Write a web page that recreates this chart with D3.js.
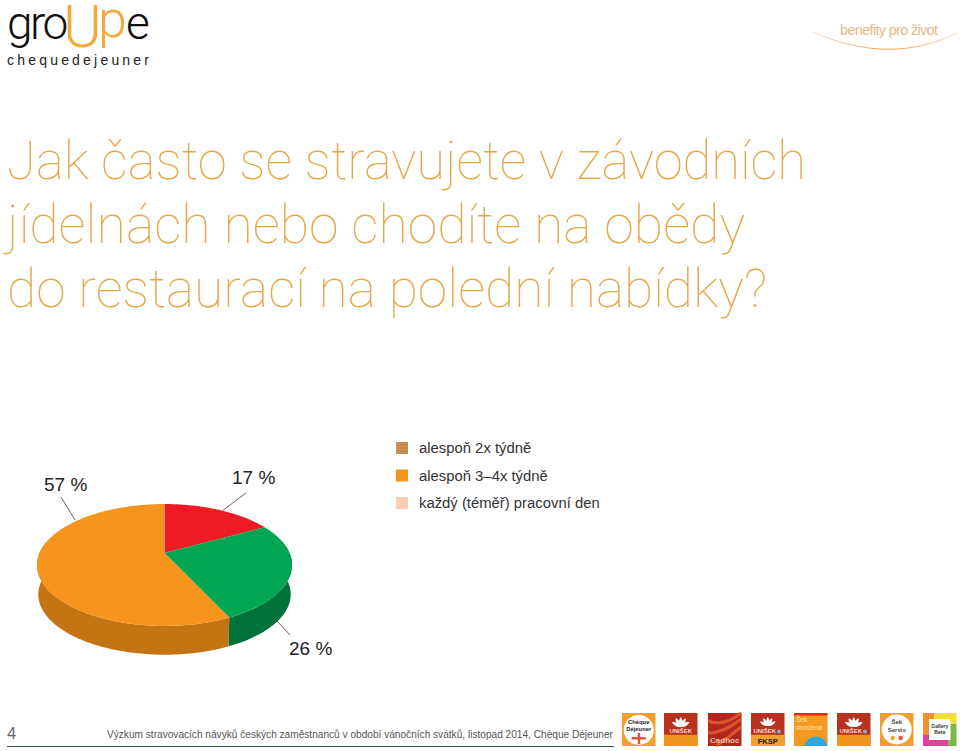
<!DOCTYPE html>
<html><head><meta charset="utf-8">
<script src="https://cdnjs.cloudflare.com/ajax/libs/d3/7.8.5/d3.min.js"></script>
<style>html,body{margin:0;padding:0;background:#fff}svg{display:block}text{font-family:"Liberation Sans",Arial,sans-serif}</style>
</head><body><svg id="c" width="960" height="751"></svg>
<script>
const sliceValues = [17, 26, 57];
const sliceLabels = ["17 %","26 %","57 %"];
const sliceColors = ["#ED1C24","#00A651","#F7941D"];
const wallColors = ["#A8141A","#00723A","#C27512"];
const legendLabels = ["alespoň 2x týdně","alespoň 3–4x týdně","každý (téměř) pracovní den"];
const legendColors = ["#CC8B50","#F7941D","#FBCDB5"];
const titleLines = ["Jak často se stravujete v závodních","jídelnách nebo chodíte na obědy","do restaurací na polední nabídky?"];
const footerText = "Výzkum stravovacích návyků českých zaměstnanců v období vánočních svátků, listopad 2014, Chèque Déjeuner";

const svg = d3.select("#c");
const TITLE="#E6A64A";

const defs=svg.append("defs");
const grad=defs.append("linearGradient").attr("id","sw").attr("gradientUnits","userSpaceOnUse").attr("x1",813).attr("x2",957).attr("y1",0).attr("y2",0);
[[0,"#F6E3CC"],[.5,"#EFA050"],[1,"#F6E3CC"]].forEach(s=>grad.append("stop").attr("offset",s[0]).attr("stop-color",s[1]));

// header
const logo = svg.append("text").style("font-family","Roboto").style("font-weight",300);
const span=(t,x,y,fs,c,ls)=>logo.append("tspan").text(t).attr("x",x).attr("y",y).attr("font-size",fs).attr("fill",c).style("letter-spacing",(ls||0)+"px");
span("gro",7,39,46,"#111",-2.6);
span("U",63,47,59,"#F4A93A");
span("p",98,37,52,"#F4A93A");
span("e",126,39,46,"#111");
svg.append("text").text("chequedejeuner").attr("x",7).attr("y",65).attr("font-size",14).attr("fill","#222").attr("textLength",142).attr("lengthAdjust","spacing");
svg.append("text").text("benefity pro život").attr("x",840).attr("y",35).attr("font-size",14.5).attr("fill","#E8B88A").attr("textLength",98);
svg.append("path").attr("d","M813,32 Q890,66 957,33").attr("fill","none").attr("stroke","url(#sw)").attr("stroke-width",1.1);

// title
svg.append("g").selectAll("text").data(titleLines).join("text")
  .text(d=>d).attr("x",7).attr("y",(d,i)=>179+i*64)
  .attr("font-size",53).attr("fill",TITLE)
  .style("font-family","Roboto").style("font-weight",100)
  .attr("textLength",(d,i)=>[799,738,760][i]).attr("lengthAdjust","spacingAndGlyphs");

// pie: d3.pie angles projected on to a tilted disc
const arcs = d3.pie().sort(null)(sliceValues);
const xS = d3.scaleLinear().domain([-1,1]).range([-125,125]);
const yS = d3.scaleLinear().domain([-1,1]).range([58.6,-58.6]);
const k = 0.1967;
const proj = (t,r,s,dy)=>{const u=r*Math.sin(t),v=r*Math.cos(t),w=1+k*v;
  return [164.5+s*xS(u)/w, 553+dy+s*yS(v)/w];};
const line = d3.line().curve(d3.curveLinear);
const samples=(a,b)=>{const n=Math.max(2,Math.ceil((b-a)/0.02));return d3.range(n+1).map(i=>a+(b-a)*i/n);};
const pg = svg.append("g");
const DY=29.5,S=0.99;
arcs.forEach((d,i)=>{
  const a=Math.max(d.startAngle,Math.PI/2-0.2), b=Math.min(d.endAngle,3*Math.PI/2+0.2);
  if(b<=a) return;
  const ts=samples(a,b);
  const pts=ts.map(t=>proj(t,1,1,0)).concat(ts.slice().reverse().map(t=>proj(t,1,S,DY)));
  pg.append("path").attr("d",line(pts)+"Z").attr("fill",wallColors[i]);
});
arcs.forEach((d,i)=>{
  const pts=[proj(0,0,1,0)].concat(samples(d.startAngle,d.endAngle).map(t=>proj(t,1,1,0)));
  pg.append("path").attr("d",line(pts)+"Z").attr("fill",sliceColors[i]);
});

// leaders and value labels
const leaderFrom=[[222.7,510.5],[276.7,620.7],[75,520]];
const leaderTo=[[246,493],[290,635],[61,497]];
const labelPos=[[232,484],[289,655],[44,491]];
sliceLabels.forEach((t,i)=>{
  svg.append("line").attr("x1",leaderFrom[i][0]).attr("y1",leaderFrom[i][1]).attr("x2",leaderTo[i][0]).attr("y2",leaderTo[i][1]).attr("stroke","#444").attr("stroke-width",.8);
  svg.append("text").text(t).attr("x",labelPos[i][0]).attr("y",labelPos[i][1]).attr("font-size",19).attr("fill","#222");
});

// legend
const ly=d3.scalePoint().domain(legendLabels).range([448,503]);
const lgd=svg.append("g").selectAll("g").data(legendLabels).join("g");
lgd.append("rect").attr("x",396).attr("y",d=>ly(d)-6).attr("width",12).attr("height",12).attr("fill",(d,i)=>legendColors[i]);
lgd.append("text").text(d=>d).attr("x",419).attr("y",d=>ly(d)+5).attr("font-size",14.85).attr("fill","#333");

// footer
svg.append("text").text("4").attr("x",7).attr("y",739).attr("font-size",16.5).attr("fill","#666");
svg.append("text").text(footerText).attr("x",107).attr("y",738).attr("font-size",11.6).attr("fill","#555").attr("textLength",506).attr("lengthAdjust","spacingAndGlyphs");
svg.append("line").attr("x1",7).attr("x2",614).attr("y1",746.5).attr("y2",746.5).attr("stroke","#34504E").attr("stroke-width",1.2);

// partner logos
const logoX=[622,664,708,751,794,837,880,923], W=33.5,T=713,H=33;
const lotus=(g,x,y,s)=>{[-60,-30,0,30,60].forEach(a=>{
  g.append("path").attr("d",`M0,0 C${-2.6*s},${-3*s} ${-1.8*s},${-8*s} 0,${-10*s} C${1.8*s},${-8*s} ${2.6*s},${-3*s} 0,0`)
   .attr("transform",`translate(${x},${y}) rotate(${a})`).attr("fill","#fff");});};
const txt=(g,t,x,y,fs,c,w,anchor)=>g.append("text").text(t).attr("x",x).attr("y",y).attr("font-size",fs).attr("fill",c).attr("font-weight",w||"bold").attr("text-anchor",anchor||"middle");
logoX.forEach((x,i)=>{
  const g=svg.append("g").attr("transform",`translate(${x},${T})`);
  const cx=W/2;
  if(i===0){
    g.append("rect").attr("width",W).attr("height",H).attr("fill","#F0A030");
    g.append("circle").attr("cx",cx).attr("cy",H/2+.5).attr("r",15).attr("fill","#fff");
    txt(g,"Chèque",cx,11,5.8,"#222"); txt(g,"Déjeuner",cx,18,5.8,"#222");
    g.append("rect").attr("x",cx-1).attr("y",20).attr("width",2.5).attr("height",11).attr("fill","#E0563A");
    g.append("rect").attr("x",cx-7).attr("y",24).attr("width",14).attr("height",2.5).attr("fill","#E0563A");
  } else if(i===1||i===3||i===5){
    g.append("rect").attr("width",W).attr("height",H).attr("fill","#B8321E");
    g.append("rect").attr("y",H*.66).attr("width",W).attr("height",H*.34).attr("fill",i===3?"#F0A030":"#F0961E");
    lotus(g,cx,i===3?13:14,i===3?.9:1);
    txt(g,"UNIŠEK",i===1?cx:cx-3,20,6,"#f3d9cf");
    if(i!==1) g.append("circle").attr("cx",28).attr("cy",18.5).attr("r",2).attr("fill","#7FB2D8");
    if(i===3) txt(g,"FKSP",cx,31,7.5,"#222");
  } else if(i===2){
    g.append("rect").attr("width",W).attr("height",H).attr("fill","#B3261E");
    [[0,8,33,0],[0,20,33,6],[8,33,33,14]].forEach(p=>g.append("path").attr("d",`M${p[0]},${p[1]} Q16,${p[3]+14} ${p[2]},${p[3]}`).attr("stroke","#D9532C").attr("stroke-width",3).attr("fill","none"));
    txt(g,"Cadhoc",cx,30,8,"#f2c4a8");
  } else if(i===4){
    g.append("rect").attr("width",W).attr("height",H).attr("fill","#F39A1E");
    g.append("rect").attr("width",W).attr("height",2.5).attr("fill","#D9301E");
    txt(g,"Šek",2,9,6.5,"#FBE3B0","normal","start"); txt(g,"dovolená",2,17,6.5,"#FBE3B0","normal","start");
    g.append("path").attr("d",`M10,33 A12,12 0 0 1 33.5,33 Z`).attr("fill","#2FA6DE");
  } else if(i===6){
    g.append("rect").attr("width",W).attr("height",H).attr("fill","#F0A030");
    g.append("circle").attr("cx",cx).attr("cy",H/2).attr("r",15).attr("fill","#fff");
    txt(g,"Šek",cx,11,6,"#444"); txt(g,"Servis",cx,18.5,6,"#444");
    g.append("circle").attr("cx",cx-4).attr("cy",25).attr("r",2.2).attr("fill","#F0A030");
    g.append("circle").attr("cx",cx+4).attr("cy",25).attr("r",2.2).attr("fill","#E0563A");
  } else {
    g.append("rect").attr("width",W/3).attr("height",H).attr("fill","#F09030");
    g.append("rect").attr("x",W/3).attr("width",W*2/3).attr("height",H/3).attr("fill","#F4DE3C");
    g.append("rect").attr("y",H*.66).attr("width",W*.75).attr("height",H*.34).attr("fill","#E0409A");
    g.append("rect").attr("x",W*.75).attr("y",H/3).attr("width",W*.25).attr("height",H*.67).attr("fill","#7DB84A");
    g.append("rect").attr("x",6).attr("y",6).attr("width",W-12).attr("height",H-12).attr("fill","#fff");
    txt(g,"Gallery",cx,15,5,"#333"); txt(g,"Beta",cx,21,5,"#333");
  }
});
</script></body></html>
